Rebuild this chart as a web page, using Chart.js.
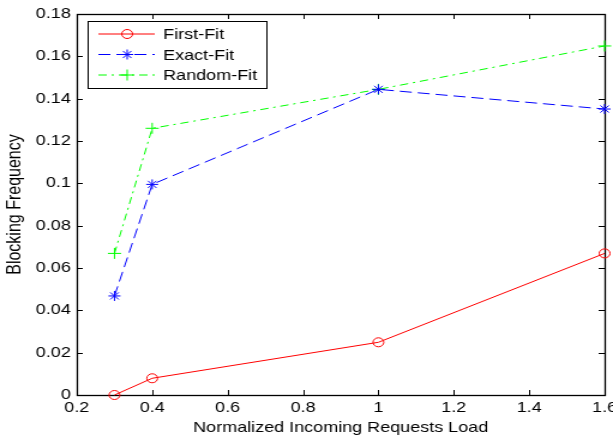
<!DOCTYPE html>
<html>
<head>
<meta charset="utf-8">
<script src="https://cdn.jsdelivr.net/npm/chart.js@4/dist/chart.umd.min.js"></script>
<style>
  html, body { margin:0; padding:0; background:#fff; }
  #wrap { width:613px; height:437px; }
  #c { display:block; }
</style>
</head>
<body>
<!-- the original picture is stretched sideways, so the canvas is drawn narrow and widened by inline CSS -->
<div id="wrap"><canvas id="c" width="511" height="437" style="width:613px;height:437px"></canvas></div>
<script>
// data
const loads = [0.3, 0.4, 1.0, 1.6];
const firstFit = [0, 0.0079, 0.0249, 0.0669];
const exactFit = [0.0468, 0.0995, 0.1444, 0.1351];
const randomFit = [0.0669, 0.126, 0.1444, 0.1649];

const xTicks = [0.2, 0.4, 0.6, 0.8, 1.0, 1.2, 1.4, 1.6];
const yTicks = [0, 0.02, 0.04, 0.06, 0.08, 0.1, 0.12, 0.14, 0.16, 0.18];

const FONT = "'Liberation Sans', Arial, sans-serif";

function pts(ys){ return loads.map((x,i)=>({x, y: ys[i]})); }

// frame + inward ticks on every side (matlab look)
const frameTicks = {
  id: "frameTicks",
  beforeDatasetsDraw(chart){
    const {ctx, chartArea:a, scales:{x, y}} = chart;
    const tl = 5;
    ctx.save();
    ctx.strokeStyle = "#000";
    ctx.lineWidth = 1;
    ctx.beginPath();
    for(const v of xTicks){
      const px = Math.round(x.getPixelForValue(v)) + 0.5;
      ctx.moveTo(px, a.bottom); ctx.lineTo(px, a.bottom - tl);
      ctx.moveTo(px, a.top); ctx.lineTo(px, a.top + tl);
    }
    for(const v of yTicks){
      const py = Math.round(y.getPixelForValue(v)) + 0.5;
      ctx.moveTo(a.left, py); ctx.lineTo(a.left + tl, py);
      ctx.moveTo(a.right, py); ctx.lineTo(a.right - tl, py);
    }
    ctx.stroke();
    ctx.lineWidth = 1.3;
    ctx.strokeRect(Math.round(a.left)+0.5, Math.round(a.top)+0.5, Math.round(a.right-a.left), Math.round(a.bottom-a.top));
    ctx.restore();
  }
};

// legend box inside the plot, top-left
const boxLegend = {
  id: "boxLegend",
  afterDatasetsDraw(chart){
    const {ctx, chartArea:a} = chart;
    const bx = a.left + 9, by = a.top + 7, bw = 149, bh = 67;
    ctx.save();
    ctx.fillStyle = "#fff";
    ctx.fillRect(bx, by, bw, bh);
    ctx.strokeStyle = "#000";
    ctx.lineWidth = 1;
    ctx.strokeRect(bx + 0.5, by + 0.5, bw, bh);
    chart.data.datasets.forEach((ds, i)=>{
      const cy = by + 13 + i * 20.5;
      ctx.strokeStyle = ds.borderColor;
      ctx.lineWidth = ds.borderWidth;
      ctx.setLineDash(ds.borderDash || []);
      ctx.beginPath();
      ctx.moveTo(bx + 9, cy); ctx.lineTo(bx + 56, cy);
      ctx.stroke();
      ctx.setLineDash([]);
      ctx.fillStyle = "rgba(0,0,0,0)";
      Chart.helpers.drawPoint(ctx, {pointStyle: ds.pointStyle, radius: ds.pointRadius, rotation: 0, borderWidth: 1}, bx + 33, cy);
      ctx.fillStyle = "#000";
      ctx.font = "15px " + FONT;
      ctx.textBaseline = "middle";
      ctx.fillText(ds.label, bx + 63, cy + 1);
    });
    ctx.restore();
  }
};

new Chart(document.getElementById("c"), {
  type: "line",
  data: {
    datasets: [
      { label: "First-Fit", data: pts(firstFit), borderColor: "#ff0000", backgroundColor: "rgba(0,0,0,0)",
        borderWidth: 1, pointStyle: "circle", pointRadius: 4.5, pointBorderWidth: 1, clip: false },
      { label: "Exact-Fit", data: pts(exactFit), borderColor: "#0000ff", backgroundColor: "rgba(0,0,0,0)",
        borderWidth: 1, borderDash: [10, 5], pointStyle: "star", pointRadius: 5, pointBorderWidth: 1, clip: false },
      { label: "Random-Fit", data: pts(randomFit), borderColor: "#00ff00", backgroundColor: "rgba(0,0,0,0)",
        borderWidth: 1, borderDash: [7, 4, 2, 4], pointStyle: "cross", pointRadius: 5.5, pointBorderWidth: 1, clip: false }
    ]
  },
  options: {
    responsive: false,
    devicePixelRatio: 1,
    animation: false,
    layout: { padding: { top: 14, right: 7, left: 0, bottom: 0 } },
    plugins: { legend: { display: false }, tooltip: { enabled: false } },
    scales: {
      x: {
        type: "linear", min: 0.2, max: 1.6,
        afterBuildTicks: s => { s.ticks = xTicks.map(v=>({value: v})); },
        afterFit: s => { s.height = 42; s.paddingLeft = 0; s.paddingRight = 0; },
        grid: { display: false, drawTicks: false },
        border: { display: false },
        ticks: { color: "#000", padding: 4, maxRotation: 0, autoSkip: false,
          font: { family: FONT, size: 15 }, callback: v => String(Number(v.toFixed(1))) },
        title: { display: true, text: "Normalized Incoming Requests Load", color: "#000",
          font: { family: FONT, size: 15 }, padding: { top: 0, bottom: 0 } }
      },
      y: {
        type: "linear", min: 0, max: 0.18,
        afterBuildTicks: s => { s.ticks = yTicks.map(v=>({value: v})); },
        afterFit: s => { s.width = 64; s.paddingTop = 0; s.paddingBottom = 0; },
        grid: { display: false, drawTicks: false },
        border: { display: false },
        ticks: { color: "#000", padding: 5, autoSkip: false,
          font: { family: FONT, size: 15 }, callback: v => String(Number(v.toFixed(2))) },
        title: { display: true, text: "Blocking Frequency", color: "#000",
          font: { family: FONT, size: 16 }, padding: { top: 3, bottom: 0 } }
      }
    }
  },
  plugins: [frameTicks, boxLegend]
});
</script>
</body>
</html>
